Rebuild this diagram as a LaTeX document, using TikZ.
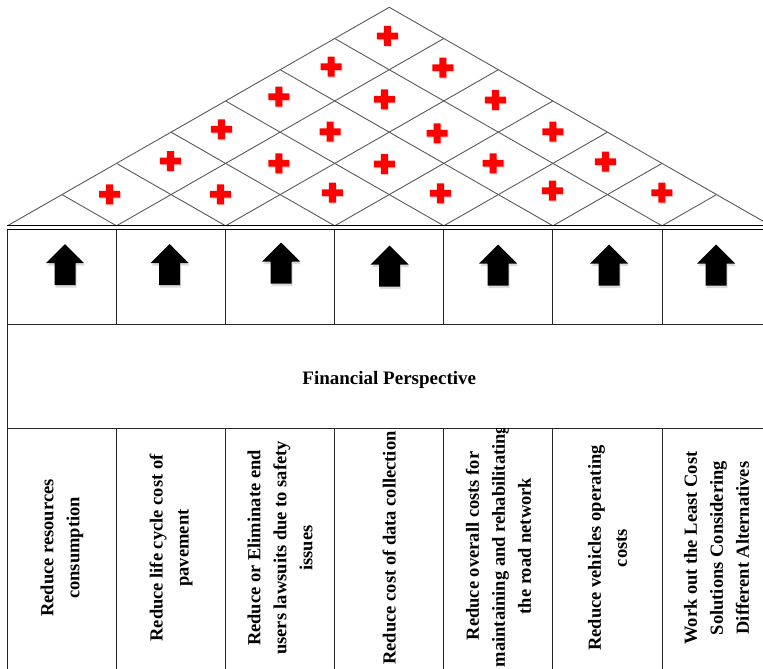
\documentclass[tikz,border=0pt]{standalone}
\usepackage{fontspec}
\setmainfont{Liberation Serif}
\begin{document}
\begin{tikzpicture}[x=1pt,y=1pt,
  roof/.style={draw=black!65, line width=0.9pt},
  rule/.style={draw=black!85, line width=1pt},
  dbl/.style={draw=black, line width=1.3pt},
  plusmark/.style={fill=red},
  arrowshadow/.style={fill=black!40, opacity=0.35},
  coltext/.style={rotate=90, align=center, inner sep=0pt,
    font=\bfseries\fontsize{18.5}{26}\selectfont},
  fintext/.style={font=\bfseries\fontsize{19}{23}\selectfont, inner sep=0pt}
]
\useasboundingbox (0,0) rectangle (763,-669);
\clip (0,0) rectangle (763,-669);
% ---------- roof ----------
\coordinate (apex) at (389.25,-7.3);
\coordinate (roofL) at (7.4,-225.8);
\coordinate (roofR) at (771.1,-225.8);
\draw[roof] (roofL) -- (apex) -- (roofR);
\foreach \k in {1,...,6}{
  \coordinate (b\k) at (7.4+109.1*\k,-225.8);
  \draw[roof] (b\k) -- (7.4+54.55*7+54.55*\k,-225.8+31.214*7-31.214*\k);
  \draw[roof] (b\k) -- (7.4+54.55*\k,-225.8+31.214*\k);
}
% ---------- plus marks ----------
\foreach \px/\py in {387.3/36,
  331/66.7, 442.8/67.7,
  278.8/96.7, 384.4/99.3, 495.4/100,
  221.4/129.3, 330/131.7, 437/133.3, 552.8/131.7,
  170.3/161, 278.8/163.3, 384.4/164, 493/163.3, 605.4/161.7,
  109.5/194.3, 220.4/194.3, 332.4/192.7, 440.4/193.3, 552.3/190.7, 661.8/192.7}{
  \fill[red!25, opacity=0.6] (\px-9.5,-\py-4.6) rectangle (\px+11.5,-\py+2.2)
        (\px-2.5,-\py-11.2) rectangle (\px+4.5,-\py+8.8);
  \fill[plusmark] (\px-10.5,-\py-3.4) rectangle (\px+10.5,-\py+3.4)
        (\px-3.5,-\py-10) rectangle (\px+3.5,-\py+10);
}
% ---------- table ----------
\draw[dbl] (roofL) -- (763,-225.8);
\draw[dbl] (7.4,-229.6) -- (763,-229.6);
\draw[rule] (7.4,-229.6) -- (7.4,-669);
\draw[rule] (7.4,-324) -- (763,-324);
\draw[rule] (7.4,-428) -- (763,-428);
\foreach \k in {1,...,6}{
  \draw[rule] (7.4+109.1*\k,-229.6) -- (7.4+109.1*\k,-324);
  \draw[rule] (7.4+109.1*\k,-428) -- (7.4+109.1*\k,-669);
}
% ---------- arrows ----------
\foreach \ax/\ay in {65/244, 169.5/244, 281/242.5, 389.5/245.5, 498/244.5, 609/244.5, 716/244.5}{
  \fill[arrowshadow] (\ax+1.2,-\ay-2.5) -- (\ax+20.2,-\ay-21.5) -- (\ax+11.7,-\ay-21.5)
     -- (\ax+11.7,-\ay-43.5) -- (\ax-9.3,-\ay-43.5) -- (\ax-9.3,-\ay-21.5)
     -- (\ax-17.8,-\ay-21.5) -- cycle;
  \fill[black] (\ax,-\ay) -- (\ax+19,-\ay-19) -- (\ax+10.5,-\ay-19)
     -- (\ax+10.5,-\ay-41) -- (\ax-10.5,-\ay-41) -- (\ax-10.5,-\ay-19)
     -- (\ax-19,-\ay-19) -- cycle;
}
% ---------- texts ----------
\node[fintext, anchor=base] (fin) at (389.25,-384) {Financial Perspective};
\node[coltext] (t1) at (61.95,-548) {Reduce resources\\consumption};
\node[coltext] (t2) at (171.05,-548) {Reduce life cycle cost of\\pavement};
\node[coltext] (t3) at (280.15,-548) {Reduce or Eliminate end\\users lawsuits due to safety\\issues};
\node[coltext] (t4) at (389.25,-548) {Reduce cost of data collection};
\begin{scope}
  \clip (443.8,-428.5) rectangle (552.9,-669);
  \node[coltext] (t5) at (498.35,-546) {Reduce overall costs for\\maintaining and rehabilitating\\the road network};
\end{scope}
\node[coltext] (t6) at (607.45,-548) {Reduce vehicles operating\\costs};
\node[coltext] (t7) at (716.55,-548) {Work out the Least Cost\\Solutions Considering\\Different Alternatives};
\end{tikzpicture}
\end{document}
